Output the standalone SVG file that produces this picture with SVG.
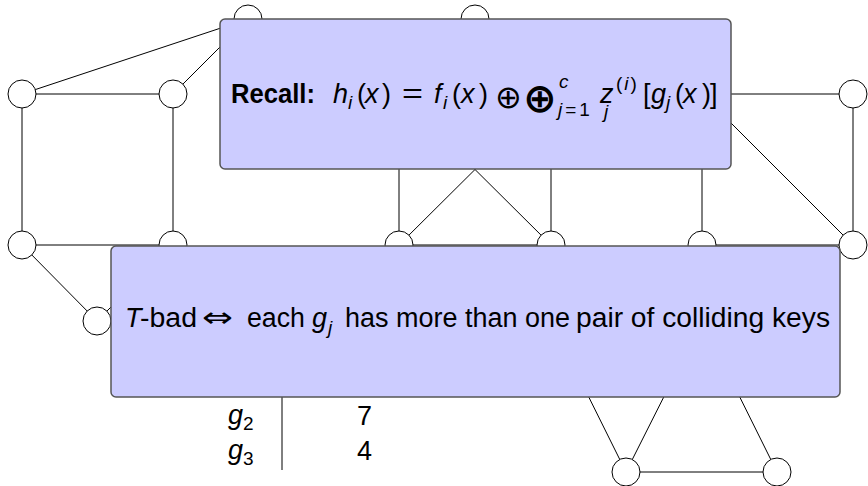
<svg xmlns="http://www.w3.org/2000/svg" width="868" height="486" viewBox="0 0 868 486">
<style>
.e{stroke:#000;stroke-width:1;fill:none}
.n{fill:#fff;stroke:#000;stroke-width:1}
.box{fill:#ccccff;stroke:#555;stroke-width:1.5}
.t{font-family:"Liberation Sans",Arial,sans-serif;font-size:27px;fill:#000}
.i{font-style:italic}
.s{font-size:19px}
.b{font-weight:bold}
.m{font-family:"DejaVu Sans",sans-serif}
</style>
<rect width="868" height="486" fill="#fff"/>
<g id="edges">
<line class="e" x1="22" y1="94" x2="173" y2="94"/>
<line class="e" x1="22" y1="94" x2="248" y2="19"/>
<line class="e" x1="173" y1="94" x2="248" y2="19"/>
<line class="e" x1="22" y1="94" x2="22" y2="245"/>
<line class="e" x1="173" y1="94" x2="173" y2="245"/>
<line class="e" x1="22" y1="245" x2="173" y2="245"/>
<line class="e" x1="22" y1="245" x2="97" y2="321"/>
<line class="e" x1="97" y1="321" x2="173" y2="245"/>
<line class="e" x1="399" y1="94" x2="399" y2="245"/>
<line class="e" x1="551" y1="94" x2="551" y2="245"/>
<line class="e" x1="399" y1="94" x2="551" y2="245"/>
<line class="e" x1="551" y1="94" x2="399" y2="245"/>
<line class="e" x1="399" y1="245" x2="551" y2="245"/>
<line class="e" x1="702" y1="94" x2="853" y2="94"/>
<line class="e" x1="702" y1="94" x2="702" y2="245"/>
<line class="e" x1="702" y1="94" x2="853" y2="245"/>
<line class="e" x1="853" y1="94" x2="853" y2="245"/>
<line class="e" x1="702" y1="245" x2="853" y2="245"/>
<line class="e" x1="551" y1="321" x2="626" y2="472"/>
<line class="e" x1="702" y1="321" x2="626" y2="472"/>
<line class="e" x1="702" y1="321" x2="777" y2="472"/>
<line class="e" x1="626" y1="472" x2="777" y2="472"/>
</g>
<g id="n1"><circle class="n" cx="22" cy="94" r="14"/></g>
<g id="n2"><circle class="n" cx="173" cy="94" r="14"/></g>
<g id="n3"><circle class="n" cx="22" cy="245" r="14"/></g>
<g id="n4"><circle class="n" cx="173" cy="245" r="14"/></g>
<g id="n5"><circle class="n" cx="97" cy="321" r="14"/></g>
<g id="n6"><circle class="n" cx="248" cy="19" r="14"/></g>
<g id="n7"><circle class="n" cx="475" cy="19" r="14"/></g>
<g id="n8"><circle class="n" cx="853" cy="94" r="14"/></g>
<g id="n9"><circle class="n" cx="853" cy="245" r="14"/></g>
<g id="n10"><circle class="n" cx="399" cy="245" r="14"/></g>
<g id="n11"><circle class="n" cx="551" cy="245" r="14"/></g>
<g id="n12"><circle class="n" cx="702" cy="245" r="14"/></g>
<g id="n13"><circle class="n" cx="626" cy="472" r="14"/></g>
<g id="n14"><circle class="n" cx="777" cy="472" r="14"/></g>
<g id="table">
<line class="e" x1="282" y1="397" x2="282" y2="470"/>
<text class="t"><tspan class="i" x="228" y="424">g</tspan><tspan class="s" x="243" y="430">2</tspan></text>
<text class="t"><tspan class="i" x="228" y="459">g</tspan><tspan class="s" x="243" y="465">3</tspan></text>
<text class="t" x="357" y="425">7</text>
<text class="t" x="357" y="460">4</text>
</g>
<g id="recall">
<rect class="box" x="220" y="19" width="511" height="150" rx="5"/>
<text class="t">
<tspan class="b" x="231" y="103" textLength="84" lengthAdjust="spacingAndGlyphs">Recall:</tspan>
<tspan class="i" x="333" y="103">h</tspan><tspan class="i s" x="348" y="109">i</tspan>
<tspan x="357" y="103">(</tspan><tspan class="i" x="365" y="103">x</tspan><tspan x="382" y="103">)</tspan>
<tspan x="402" y="103" textLength="21" lengthAdjust="spacingAndGlyphs">=</tspan>
<tspan class="i" x="434" y="103">f</tspan><tspan class="i s" x="443" y="109">i</tspan>
<tspan x="452" y="103">(</tspan><tspan class="i" x="461" y="103">x</tspan><tspan x="479" y="103">)</tspan>
<tspan class="m" x="495" y="108" style="font-size:32px">⊕</tspan>
<tspan class="m b" x="523" y="112" style="font-size:40px">⊕</tspan>
<tspan class="i s" x="559" y="88">c</tspan>
</text>
<text class="t s" x="558" y="116" style="letter-spacing:3px"><tspan class="i">j</tspan>=1</text>
<text class="t"><tspan class="i" x="600" y="103">z</tspan></text>
<text class="t s" x="616" y="90" style="letter-spacing:2px">(<tspan class="i">i</tspan>)</text>
<text class="t s i" x="604" y="118">j</text>
<text class="t">
<tspan x="643" y="103">[</tspan><tspan class="i" x="651" y="103">g</tspan><tspan class="i s" x="666" y="109">j</tspan>
<tspan x="675" y="103">(</tspan><tspan class="i" x="683" y="103">x</tspan><tspan x="702" y="103">)</tspan><tspan x="710" y="103">]</tspan>
</text>
</g>
<g id="tbad">
<rect class="box" x="111" y="246" width="729" height="151" rx="5"/>
<text class="t">
<tspan class="i" x="125" y="327">T</tspan>
<tspan x="140" y="327" textLength="57" lengthAdjust="spacingAndGlyphs">-bad</tspan>
<tspan class="m" x="202" y="327" textLength="31" lengthAdjust="spacingAndGlyphs" style="font-size:28px">⇔</tspan>
<tspan x="247" y="327" textLength="58" lengthAdjust="spacingAndGlyphs">each</tspan>
<tspan class="i" x="312" y="327">g</tspan><tspan class="i s" x="328" y="334">j</tspan>
<tspan x="345" y="327" textLength="225" lengthAdjust="spacingAndGlyphs">has more than one</tspan>
<tspan x="576" y="327" textLength="254" lengthAdjust="spacingAndGlyphs">pair of colliding keys</tspan>
</text>
</g>
</svg>
